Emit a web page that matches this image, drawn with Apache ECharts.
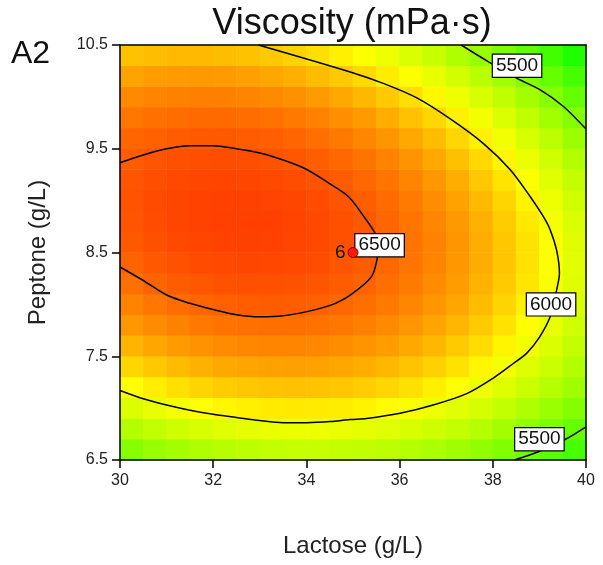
<!DOCTYPE html>
<html><head><meta charset="utf-8">
<script src="https://cdn.jsdelivr.net/npm/echarts@6/dist/echarts.min.js"></script>
<style>html,body{margin:0;padding:0;background:#fff}#c{width:603px;height:565px}</style>
</head><body><div id="c"></div>
<script>
// ---- data ----
const lactoseNodes = ['30','30.5','31','31.5','32','32.5','33','33.5','34','34.5','35','35.5','36','36.5','37','37.5','38','38.5','39','39.5'];
const peptoneNodes = ['6.5','6.7','6.9','7.1','7.3','7.5','7.7','7.9','8.1','8.3','8.5','8.7','8.9','9.1','9.3','9.5','9.7','9.9','10.1','10.3'];
// viscosity (mPa·s) per cell, rows bottom (6.5) -> top (10.3), columns 30 -> 39.5
const viscosityGrid = [
 [5567,5621,5668,5707,5739,5763,5780,5790,5792,5787,5774,5754,5727,5692,5650,5600,5543,5479,5407,5328],
 [5725,5777,5822,5859,5889,5911,5926,5933,5934,5926,5912,5890,5860,5823,5779,5727,5668,5602,5528,5447],
 [5870,5920,5962,5997,6025,6045,6058,6063,6061,6052,6035,6011,5980,5941,5894,5841,5779,5711,5635,5552],
 [6000,6048,6088,6121,6147,6165,6176,6179,6175,6164,6145,6119,6085,6044,5996,5940,5877,5806,5728,5643],
 [6116,6162,6200,6231,6255,6271,6280,6281,6275,6261,6240,6212,6176,6133,6083,6025,5960,5887,5807,5720],
 [6219,6262,6298,6327,6349,6363,6369,6369,6361,6345,6322,6292,6254,6209,6156,6096,6029,5954,5872,5782],
 [6307,6348,6383,6409,6429,6441,6445,6443,6432,6415,6390,6357,6317,6270,6216,6154,6084,6007,5923,5831],
 [6381,6421,6453,6477,6495,6505,6507,6502,6490,6470,6443,6409,6367,6318,6261,6197,6125,6046,5960,5866],
 [6441,6479,6509,6532,6547,6555,6555,6548,6534,6512,6483,6446,6402,6351,6292,6226,6152,6072,5983,5887],
 [6488,6523,6551,6572,6585,6591,6589,6580,6564,6540,6508,6470,6424,6370,6310,6241,6166,6083,5992,5894],
 [6520,6553,6579,6598,6609,6613,6609,6598,6579,6553,6520,6479,6431,6376,6313,6243,6165,6080,5987,5887],
 [6538,6570,6593,6610,6619,6620,6615,6602,6581,6553,6518,6475,6425,6367,6302,6230,6150,6063,5968,5866],
 [6543,6572,6594,6608,6615,6614,6607,6591,6569,6539,6501,6456,6404,6345,6277,6203,6121,6032,5935,5831],
 [6533,6560,6580,6592,6597,6594,6584,6567,6542,6510,6471,6424,6370,6308,6239,6162,6078,5987,5888,5782],
 [6509,6534,6552,6562,6565,6560,6548,6529,6502,6468,6426,6377,6321,6257,6186,6108,6022,5928,5827,5719],
 [6472,6494,6510,6518,6519,6512,6498,6477,6448,6412,6368,6317,6259,6193,6119,6039,5951,5855,5752,5642],
 [6420,6441,6454,6460,6459,6450,6434,6411,6380,6341,6296,6243,6182,6114,6039,5956,5866,5768,5663,5551],
 [6354,6373,6384,6388,6385,6374,6356,6330,6297,6257,6209,6154,6091,6021,5944,5859,5767,5668,5561,5446],
 [6274,6291,6301,6302,6297,6284,6264,6236,6201,6159,6109,6052,5987,5915,5835,5749,5654,5553,5444,5327],
 [6181,6195,6203,6203,6195,6180,6158,6128,6091,6046,5994,5935,5868,5794,5713,5624,5527,5424,5313,5194]
];
const contour6500 = [[30,9.365],[30.5,9.44],[31,9.5],[31.5,9.53],[32,9.53],[32.5,9.5],[33,9.46],[33.58,9.38],[34.01,9.3],[34.44,9.18],[34.9,9.04],[35.26,8.83],[35.49,8.67],[35.56,8.52],[35.54,8.48],[35.4,8.27],[34.94,8.09],[34.51,7.99],[34.01,7.93],[33.5,7.89],[33,7.88],[32.5,7.9],[32,7.95],[31.5,8.01],[31,8.09],[30.5,8.23],[30,8.36]];
const contour6000 = [[32.97,10.5],[34.94,10.24],[35.65,10.13],[36.37,9.99],[37.08,9.79],[37.8,9.55],[38.37,9.3],[38.8,9.04],[39.08,8.85],[39.23,8.72],[39.37,8.52],[39.43,8.3],[39.37,8.14],[39.23,7.88],[39.01,7.69],[38.73,7.53],[38.44,7.43],[38.01,7.29],[37.44,7.14],[36.72,7.03],[36.01,6.95],[35.29,6.9],[34.94,6.89],[34.51,6.87],[34.01,6.86],[33.5,6.86],[33,6.88],[32.5,6.91],[32,6.94],[31.5,6.98],[31,7.03],[30.5,7.09],[30,7.17]];
const contour5500Top = [[37.32,10.5],[37.9,10.34],[38.51,10.18],[39.01,10.07],[39.51,9.91],[40,9.69]];
const contour5500Bottom = [[38.46,6.5],[38.98,6.58],[39.56,6.7],[40,6.82]];
const contourLabels = [
  {name:'5500', value:[38.52,10.3]},
  {name:'6500', value:[35.57,8.57]},
  {name:'6000', value:[39.25,8.0]},
  {name:'5500', value:[39.0,6.7]}
];
const centerPoint = {name:'6', value:[35,8.5]};
const xTicks = [30,32,34,36,38,40];
const yTicks = [6.5,7.5,8.5,9.5,10.5];

// ---- chart ----
const FONT = '"Liberation Sans", Arial, Helvetica, sans-serif';
const heatData = [];
viscosityGrid.forEach((row, yi) => row.forEach((v, xi) => heatData.push([xi, yi, v])));
const lineStyle = {color:'#000', width:1.5};
const contourSeries = (data) => ({type:'line', xAxisIndex:0, yAxisIndex:0, data, smooth:0.3, symbol:'none', lineStyle, z:5, silent:true, clip:true});

const chart = echarts.init(document.getElementById('c'), null, {renderer:'canvas'});
chart.setOption({
  animation:false,
  backgroundColor:'#fff',
  textStyle:{fontFamily:FONT},
  graphic:[
    {type:'text', x:352, y:6, z:100, style:{text:'Viscosity (mPa·s)', fontSize:36, fontFamily:FONT, fill:'#111', textAlign:'center', textVerticalAlign:'top'}},
    {type:'text', x:11, y:38, z:100, style:{text:'A2', fontSize:32, fontFamily:FONT, fill:'#111', textAlign:'left', textVerticalAlign:'top'}}
  ],
  visualMap:{
    show:false, type:'continuous', seriesIndex:0, min:5000, max:6700, dimension:2,
    inRange:{color:['#00ff00','#06ff00','#22ff00','#3eff00','#59ff00','#75ff00','#91ff00','#acff00','#c8ff00','#e3ff00','#ffff00','#ffdc00','#ffbb00','#ff9a00','#ff7c00','#ff5e00','#ff4400','#ff3000']}
  },
  grid:[
    {left:120, top:45, width:466, height:415, show:false},
    {left:120, top:45, width:466, height:415, show:false}
  ],
  xAxis:[
    {type:'value', gridIndex:0, min:30, max:40, interval:2, position:'bottom', z:10,
     axisLine:{show:true, lineStyle}, axisTick:{show:true, length:8, inside:false, lineStyle},
     axisLabel:{fontSize:16, color:'#222', margin:13, fontFamily:FONT, customValues:xTicks},
     splitLine:{show:false},
     name:'Lactose (g/L)', nameLocation:'middle', nameGap:74, nameTextStyle:{fontSize:24, color:'#222', fontFamily:FONT}},
    {type:'category', gridIndex:1, data:lactoseNodes, position:'top', z:10,
     axisLine:{show:true, lineStyle}, axisTick:{show:false}, axisLabel:{show:false}, splitLine:{show:false}}
  ],
  yAxis:[
    {type:'value', gridIndex:0, min:6.5, max:10.5, interval:0.5, position:'left', z:10,
     axisLine:{show:true, lineStyle}, axisTick:{show:true, length:8, inside:false, lineStyle, customValues:yTicks},
     axisLabel:{fontSize:16, color:'#222', margin:12, fontFamily:FONT, customValues:yTicks, formatter:(v)=>Number(v).toFixed(1)},
     splitLine:{show:false},
     name:'Peptone (g/L)', nameLocation:'middle', nameGap:70, nameRotate:90, nameTextStyle:{fontSize:24, color:'#222', fontFamily:FONT}},
    {type:'category', gridIndex:1, data:peptoneNodes, position:'right', z:10,
     axisLine:{show:true, lineStyle}, axisTick:{show:false}, axisLabel:{show:false}, splitLine:{show:false}}
  ],
  series:[
    {type:'heatmap', xAxisIndex:1, yAxisIndex:1, data:heatData, itemStyle:{borderWidth:0}, z:1, silent:true, progressive:0},
    contourSeries(contour6500),
    contourSeries(contour6000),
    contourSeries(contour5500Top),
    contourSeries(contour5500Bottom),
    {type:'scatter', xAxisIndex:0, yAxisIndex:0, data:contourLabels, symbol:'rect', symbolSize:1, itemStyle:{color:'#ffffff', opacity:1}, z:8, silent:true,
     label:{show:true, position:'inside', formatter:(p)=>p.name, fontSize:19, color:'#111', fontFamily:FONT, backgroundColor:'#ffffff', borderColor:'#000', borderWidth:1.2, padding:[2,3,1,3], opacity:1}},
    {type:'scatter', xAxisIndex:0, yAxisIndex:0, data:[centerPoint], symbol:'circle', symbolSize:10, z:9, silent:true,
     itemStyle:{color:'#ff1a00', borderColor:'#7a0000', borderWidth:1, opacity:1},
     label:{show:true, position:'left', distance:2, formatter:(p)=>p.name, fontSize:19, color:'#111', fontFamily:FONT}}
  ]
});
</script></body></html>
